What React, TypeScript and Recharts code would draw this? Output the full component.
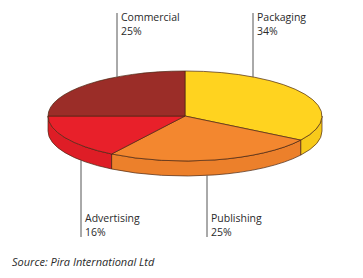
import { PieChart, Pie, Cell } from 'recharts';

// market share by print sector
const categories = ['Packaging', 'Publishing', 'Advertising', 'Commercial'];
const shares = [34, 25, 16, 25];
const topColors = ['#FFD31F', '#F3872F', '#E8202A', '#9B2D28'];
const sideColors = ['#F7CA1A', '#EC802B', '#DE1D26', '#8A2622'];

// where each leader line meets the pie (px from the centre) and which side its label sits on
const leaderDx = [68, 22, -104, -68];
const labelAbove = [true, false, false, true];

const data = categories.map((name, i) => ({ name, value: shares[i] }));

const CX = 185;
const CY = 116;
const RX = 137;
const RY = 45;
const DEPTH = 15;
const EDGE = '#4A2612';
const FONT = "'Open Sans', sans-serif";

const pt = (angle: number, dy = 0) => {
    const r = (-angle * Math.PI) / 180;
    return [CX + RX * Math.cos(r), CY + RY * Math.sin(r) + dy];
};

// front-facing part of the rim, angles in recharts' convention
const frontArcs = (start: number, end: number) => {
    const out: [number, number][] = [];
    [[0, -180], [360, 180], [-360, -540]].forEach(([hi, lo]) => {
        const a = Math.min(start, hi);
        const b = Math.max(end, lo);
        if (a > b) out.push([a, b]);
    });
    return out;
};

function Slice3D(props: any) {
    const { startAngle, endAngle, index, name, value } = props;
    const [sx, sy] = pt(startAngle);
    const [ex, ey] = pt(endAngle);
    const large = startAngle - endAngle > 180 ? 1 : 0;
    const top = `M${CX},${CY} L${sx},${sy} A${RX},${RY} 0 ${large} 1 ${ex},${ey} Z`;

    const sides = frontArcs(startAngle, endAngle).map(([a, b]) => {
        const [ax, ay] = pt(a);
        const [bx, by] = pt(b);
        return `M${ax},${ay} A${RX},${RY} 0 0 1 ${bx},${by} L${bx},${by + DEPTH} A${RX},${RY} 0 0 0 ${ax},${ay + DEPTH} Z`;
    });

    const dx = leaderDx[index];
    const lx = CX + dx;
    const k = Math.sqrt(1 - (dx / RX) ** 2);
    const above = labelAbove[index];
    const y0 = above ? 13 : CY + RY * k + DEPTH;
    const y1 = above ? CY - RY * k : 237;
    const t1 = above ? 21 : 222;

    return (
        <g>
            {sides.map((d, i) => (
                <path key={i} d={d} fill={sideColors[index]} stroke={EDGE} strokeWidth={0.7} />
            ))}
            <path d={top} fill={topColors[index]} stroke={EDGE} strokeWidth={0.7} strokeLinejoin="round" />
            <line x1={lx} y1={y0} x2={lx} y2={y1} stroke="#555" strokeWidth={1} />
            <text x={lx + 4} y={t1} fontSize={10.5} fill="#2a2a2a" fontFamily={FONT}>
                {name}
            </text>
            <text x={lx + 4} y={t1 + 14} fontSize={10.5} fill="#2a2a2a" fontFamily={FONT}>
                {value}%
            </text>
        </g>
    );
}

export default function App() {
    return (
        <div style={{ position: 'absolute', left: 0, top: 0, width: 363, height: 278, background: '#fff' }}>
            <PieChart width={363} height={278} margin={{ top: 0, right: 0, bottom: 0, left: 0 }}>
                <Pie
                    data={data}
                    dataKey="value"
                    nameKey="name"
                    cx={CX}
                    cy={CY}
                    outerRadius={RX}
                    startAngle={90}
                    endAngle={-270}
                    stroke="none"
                    labelLine={false}
                    label={Slice3D}
                    isAnimationActive={false}
                >
                    {data.map((d) => (
                        <Cell key={d.name} fill="transparent" stroke="none" />
                    ))}
                </Pie>
                <text x={12} y={266} fontSize={11} fontStyle="italic" fill="#2a2a2a" fontFamily={FONT}>
                    Source: Pira International Ltd
                </text>
            </PieChart>
        </div>
    );
}
